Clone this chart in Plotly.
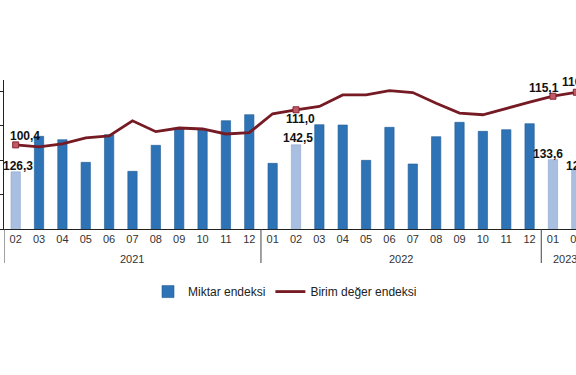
import plotly.graph_objects as go

# ---- data -------------------------------------------------------------
months = ["02", "03", "04", "05", "06", "07", "08", "09", "10", "11", "12",
          "01", "02", "03", "04", "05", "06", "07", "08", "09", "10", "11", "12",
          "01", "02"]
years = ["2021"] * 11 + ["2022"] * 12 + ["2023"] * 2

miktar_endeksi = [126.3, 147.6, 145.6, 132.0, 148.6, 126.6, 142.2, 152.0, 151.6, 157.0, 160.6,
                  131.4, 142.5, 154.6, 154.4, 133.2, 153.0, 131.0, 147.4, 156.0, 150.6, 151.6, 155.2,
                  133.6, 127.4]
birim_deger_endeksi = [100.4, 99.8, 100.7, 102.5, 103.1, 107.7, 104.4, 105.5, 105.2, 103.7, 104.1,
                       109.8, 111.0, 112.0, 115.5, 115.5, 116.8, 116.2, 113.0, 110.0, 109.5, 111.5, 113.3,
                       115.1, 116.3]

highlighted = [0, 12, 23, 24]   # compared months (light bars, labelled)

# ---- styling ----------------------------------------------------------
FONT = "Arial, 'Liberation Sans', sans-serif"
DARK_BAR = "#2E73B6"
LIGHT_BAR = "#A8BFE2"
LINE_COL = "#761A24"

def tr(v):
    return f"{v:.1f}".replace(".", ",")

n = len(months)
xs = list(range(n))
regular = [i for i in xs if i not in highlighted]

fig = go.Figure()
fig.add_trace(go.Bar(
    x=regular, y=[miktar_endeksi[i] for i in regular], name="Miktar endeksi",
    marker=dict(color=DARK_BAR, line=dict(color="#245C94", width=0.6)),
    yaxis="y", showlegend=True, legendrank=1,
))
fig.add_trace(go.Bar(
    x=highlighted, y=[miktar_endeksi[i] for i in highlighted], name="Miktar endeksi",
    marker=dict(color=LIGHT_BAR, line=dict(color="#8EA6CC", width=0.6)),
    yaxis="y", showlegend=False,
))
fig.add_trace(go.Scatter(
    x=xs, y=birim_deger_endeksi, name="Birim değer endeksi", mode="lines",
    line=dict(color=LINE_COL, width=2.8), yaxis="y2", legendrank=2,
))
fig.add_trace(go.Scatter(
    x=highlighted, y=[birim_deger_endeksi[i] for i in highlighted], mode="markers",
    marker=dict(symbol="square", size=6, color="#C05A66", line=dict(color="#8A2432", width=1)),
    yaxis="y2", showlegend=False, hoverinfo="skip",
))

# label offsets in pixels (xshift, yshift) for highlighted points
bar_off = {0: (2, 6), 12: (2, 7), 23: (-5, 6), 24: (5, 4)}
line_off = {0: (9, 9), 12: (4, -9), 23: (-9, 8), 24: (1, 10)}

ann = []
for i in highlighted:
    dx, dy = bar_off[i]
    ann.append(dict(x=i, y=miktar_endeksi[i], xref="x", yref="y", text="<b>" + tr(miktar_endeksi[i]) + "</b>",
                    showarrow=False, xanchor="center", yanchor="middle",
                    xshift=dx, yshift=dy, font=dict(family=FONT, size=12, color="#111")))
    dx, dy = line_off[i]
    ann.append(dict(x=i, y=birim_deger_endeksi[i], xref="x", yref="y2", text="<b>" + tr(birim_deger_endeksi[i]) + "</b>",
                    showarrow=False, xanchor="center", yanchor="middle",
                    xshift=dx, yshift=dy, font=dict(family=FONT, size=12, color="#111")))

# year group labels and dividers (second level of the category axis)
shapes = []
start = 0
for k in range(1, n + 1):
    if k == n or years[k] != years[start]:
        ann.append(dict(x=(start + k - 1) / 2, y=0, xref="x", yref="paper", text=years[start],
                        showarrow=False, xanchor="center", yanchor="middle", yshift=-30,
                        font=dict(family=FONT, size=11, color="#333")))
        shapes.append(dict(type="line", xref="x", yref="paper", x0=start - 0.5, x1=start - 0.5,
                           ysizemode="pixel", yanchor=0, y0=0, y1=-34,
                           line=dict(color="#444", width=1)))
        start = k

# the chart continues past the right edge of the 576px window
W = 600
XR = [-0.5, -0.5 + (W - 4) / 23.36]
fig.update_layout(
    width=W, height=375,
    margin=dict(l=4, r=0, t=80, b=146),
    paper_bgcolor="white", plot_bgcolor="white",
    font=dict(family=FONT, size=11, color="#333"),
    barmode="overlay", bargap=0.6,
    xaxis=dict(type="linear", range=XR, tickmode="array", tickvals=xs, ticktext=months,
               showline=True, linecolor="#222", linewidth=1, ticks="", showgrid=False, zeroline=False,
               tickfont=dict(family=FONT, size=11, color="#333")),
    xaxis2=dict(type="linear", overlaying="x", side="bottom", range=XR, tick0=0.5, dtick=1,
                ticks="outside", ticklen=17, tickcolor="#444", tickwidth=1,
                showticklabels=False, showgrid=False, zeroline=False, showline=False),
    yaxis=dict(range=[92, 92 + 149 * 0.6], tick0=92, dtick=20.64, ticks="outside", ticklen=4,
               tickcolor="#222", showticklabels=False, showgrid=False, zeroline=False,
               showline=True, linecolor="#222", linewidth=1),
    yaxis2=dict(range=[75, 120], overlaying="y", side="right", showticklabels=False,
                showgrid=False, zeroline=False, showline=False, ticks=""),
    legend=dict(orientation="h", x=(285 - 4) / (W - 4), xanchor="center", y=-0.42, yanchor="middle",
                font=dict(family=FONT, size=12, color="#222"), bgcolor="rgba(0,0,0,0)"),
    annotations=ann,
    shapes=shapes,
)

fig.write_html("out.html", config={"displayModeBar": False},
               post_script="document.body.style.margin='0';document.body.style.overflow='hidden';"
                           "document.documentElement.style.overflow='hidden';")
